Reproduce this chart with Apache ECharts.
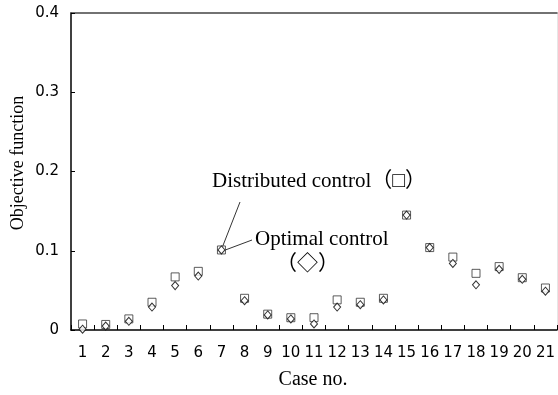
<!DOCTYPE html>
<html>
<head>
<meta charset="utf-8">
<script src="https://cdn.jsdelivr.net/npm/echarts@6/dist/echarts.min.js"></script>
<style>
html,body{margin:0;padding:0;background:#fff;}
#c{width:558px;height:395px;}
</style>
</head>
<body>
<div id="c"></div>
<script>
const categories = ['1','2','3','4','5','6','7','8','9','10','11','12','13','14','15','16','17','18','19','20','21'];
const distributed = [0.0076,0.007,0.014,0.035,0.067,0.074,0.101,0.040,0.020,0.0155,0.0155,0.038,0.035,0.040,0.145,0.104,0.092,0.0715,0.080,0.066,0.053];
const optimal = [0.001,0.005,0.011,0.029,0.056,0.068,0.101,0.037,0.019,0.014,0.0076,0.029,0.032,0.038,0.145,0.104,0.084,0.057,0.0765,0.064,0.049];
const yTicks = [0, 0.1, 0.2, 0.3, 0.4];
const annotatedCase = 6; // index of case 7

const serif = "'Liberation Serif','Times New Roman','Noto Sans CJK JP',serif";
const sans = "'DejaVu Sans',sans-serif";

const chart = echarts.init(document.getElementById('c'), null, {renderer:'canvas'});
const option = {
  animation: false,
  backgroundColor: '#fff',
  grid: {left: 71, right: 1, top: 13, bottom: 65, containLabel: false},
  xAxis: [{
    type: 'category',
    data: categories,
    boundaryGap: true,
    axisLine: {show: true, onZero: false, lineStyle: {color: '#000', width: 1.5}},
    axisTick: {show: true, inside: true, length: 5, interval: 0, lineStyle: {color: '#000'}},
    axisLabel: {interval: 0, margin: 16, color: '#000', fontSize: 15, fontFamily: sans},
    splitLine: {show: false}
  }, {
    type: 'category',
    position: 'top',
    data: categories,
    axisLine: {show: true, onZero: false, lineStyle: {color: '#444', width: 1.5}},
    axisTick: {show: false},
    axisLabel: {show: false},
    splitLine: {show: false}
  }],
  yAxis: [{
    type: 'value',
    min: yTicks[0],
    max: yTicks[yTicks.length - 1],
    interval: 0.1,
    axisLine: {show: true, onZero: false, lineStyle: {color: '#000', width: 1.5}},
    axisTick: {show: true, inside: true, length: 4, lineStyle: {color: '#000'}},
    axisLabel: {margin: 12, color: '#000', fontSize: 15, fontFamily: sans},
    splitLine: {show: false}
  }, {
    type: 'value',
    position: 'right',
    min: yTicks[0],
    max: yTicks[yTicks.length - 1],
    interval: 0.1,
    axisLine: {show: true, onZero: false, lineStyle: {color: '#e6e6e6', width: 1}},
    axisTick: {show: false},
    axisLabel: {show: false},
    splitLine: {show: false}
  }],
  series: [{
    name: 'Distributed control',
    type: 'scatter',
    data: distributed,
    symbol: 'rect',
    symbolSize: 8,
    itemStyle: {color: '#fff', borderColor: '#333', borderWidth: 1},
    z: 3
  }, {
    name: 'Optimal control',
    type: 'scatter',
    data: optimal,
    symbol: 'diamond',
    symbolSize: [7, 8],
    itemStyle: {color: '#fff', borderColor: '#000', borderWidth: 1},
    z: 4
  }]
};
chart.setOption(option);

const p = chart.convertToPixel({xAxisIndex: 0, yAxisIndex: 0}, [annotatedCase, distributed[annotatedCase]]);
chart.setOption({
  graphic: [
    {type: 'text', left: 212, top: 171, style: {text: 'Distributed control（□）', font: '21px ' + serif, fill: '#000'}},
    {type: 'text', left: 255, top: 229, style: {text: 'Optimal control', font: '21px ' + serif, fill: '#000'}},
    {type: 'text', left: 276, top: 254, style: {text: '（◇）', font: '21px ' + serif, fill: '#000'}},
    {type: 'line', shape: {x1: 240, y1: 202, x2: p[0] + 1, y2: p[1] - 3}, style: {stroke: '#000', lineWidth: 0.8}},
    {type: 'line', shape: {x1: 252, y1: 240, x2: p[0] + 4, y2: p[1] + 0}, style: {stroke: '#000', lineWidth: 0.8}},
    {type: 'text', x: 18, y: 163, rotation: Math.PI / 2, style: {text: 'Objective function', font: '18px ' + serif, fill: '#000', align: 'center', verticalAlign: 'middle'}},
    {type: 'text', x: 313, y: 380, style: {text: 'Case no.', font: '20px ' + serif, fill: '#000', align: 'center', verticalAlign: 'middle'}}
  ]
});
</script>
</body>
</html>
